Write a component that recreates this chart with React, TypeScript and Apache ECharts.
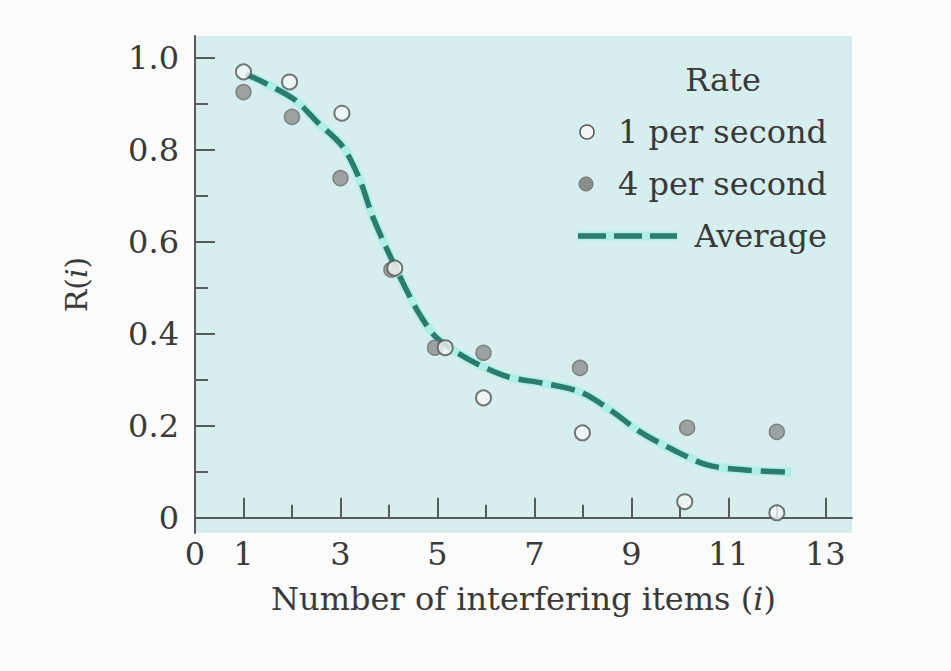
import React, { useEffect, useRef } from "react";
import * as echarts from "echarts";

const onePerSecond: [number, number][] = [
  [1, 0.97], [1.95, 0.948], [3.03, 0.88], [4.12, 0.543], [5.16, 0.37],
  [5.95, 0.261], [7.99, 0.185], [10.1, 0.035], [12, 0.011],
];
const fourPerSecond: [number, number][] = [
  [1, 0.926], [2, 0.872], [3, 0.739], [4.05, 0.54], [4.95, 0.37],
  [5.95, 0.359], [7.94, 0.326], [10.15, 0.196], [12, 0.187],
];
const average: [number, number][] = [
  [1.05, 0.965], [1.4, 0.948], [2.06, 0.909], [2.52, 0.861], [3.05, 0.807],
  [3.4, 0.735], [3.65, 0.659], [3.92, 0.593], [4.33, 0.502], [4.64, 0.441],
  [5.0, 0.39], [5.67, 0.343], [6.44, 0.307], [7.18, 0.293], [7.94, 0.274],
  [8.56, 0.235], [9.18, 0.187], [9.86, 0.148], [10.56, 0.115], [11.35, 0.104],
  [12.3, 0.099],
];
const xLabelValues = [0, 1, 3, 5, 7, 9, 11, 13];
const xMajorTicks = [1, 3, 5, 7, 9, 11, 13];
const xMinorTicks = [2, 4, 6, 8, 10, 12];
const yLabelValues = [0, 0.2, 0.4, 0.6, 0.8, 1.0];
const yMinorTicks = [0.1, 0.3, 0.5, 0.7, 0.9];
const legendTitle = "Rate";
const legendLabels = ["1 per second", "4 per second", "Average"];

const FONT = "DejaVu Serif";
const TEXT = "#3a3a3a";
const AXIS = "#5a5a5a";
const LINE = "#2b7b6e";
const GLOW = "rgba(150,240,228,0.6)";
const FS = 32;

export default function App() {
  const ref = useRef<HTMLDivElement>(null);
  useEffect(() => {
    if (!ref.current) return;
    const chart = echarts.init(ref.current, null, { renderer: "svg" });
    const xMin = 0, xMax = 13.55, yMin = -0.033, yMax = 1.048;
    const legendX = 827;
    const rows = [80, 132, 184, 236];
    const legendFont = `${FS}px "${FONT}"`;
    chart.setOption({
      animation: false,
      backgroundColor: "#fbfbfb",
      textStyle: { fontFamily: FONT },
      grid: {
        left: 195, right: 99, top: 36, bottom: 138,
        show: true, backgroundColor: "#d7eeee", borderWidth: 0,
      },
      xAxis: [
        {
          type: "value", min: xMin, max: xMax, position: "bottom",
          axisLine: { show: true, lineStyle: { color: AXIS, width: 2 } },
          axisTick: { show: true, inside: true, length: 20, customValues: xMajorTicks, lineStyle: { color: AXIS, width: 2 } },
          axisLabel: { customValues: xLabelValues, color: TEXT, fontFamily: FONT, fontSize: FS, margin: 5 },
          splitLine: { show: false },
          name: "Number of interfering items ({i|i})",
          nameLocation: "middle", nameGap: 50,
          nameTextStyle: {
            color: TEXT, fontFamily: FONT, fontSize: FS,
            rich: { i: { fontStyle: "italic", fontFamily: FONT, fontSize: FS, color: TEXT } },
          },
        },
        {
          type: "value", min: xMin, max: xMax, position: "bottom", offset: 0,
          axisLine: { show: false },
          axisTick: { show: true, inside: true, length: 13, customValues: xMinorTicks, lineStyle: { color: AXIS, width: 2 } },
          axisLabel: { show: false },
          splitLine: { show: false },
        },
      ],
      yAxis: [
        {
          type: "value", min: yMin, max: yMax, position: "left",
          axisLine: { show: true, lineStyle: { color: AXIS, width: 2 } },
          axisTick: { show: true, inside: true, length: 20, customValues: yLabelValues, lineStyle: { color: AXIS, width: 2 } },
          axisLabel: {
            customValues: yLabelValues, color: TEXT, fontFamily: FONT, fontSize: FS, margin: 16,
            formatter: (v: number) => (v === 0 ? "0" : v.toFixed(1)),
          },
          splitLine: { show: false },
          name: "R({i|i})",
          nameLocation: "middle", nameGap: 104,
          nameTextStyle: {
            color: TEXT, fontFamily: FONT, fontSize: 30,
            rich: { i: { fontStyle: "italic", fontFamily: FONT, fontSize: 30, color: TEXT } },
          },
        },
        {
          type: "value", min: yMin, max: yMax, position: "left", offset: 0,
          axisLine: { show: false },
          axisTick: { show: true, inside: true, length: 13, customValues: yMinorTicks, lineStyle: { color: AXIS, width: 2 } },
          axisLabel: { show: false },
          splitLine: { show: false },
        },
      ],
      series: [
        {
          name: "Average glow", type: "line", smooth: 0.3, showSymbol: false, silent: true,
          data: average, lineStyle: { color: GLOW, width: 9 }, z: 2,
        },
        {
          name: legendLabels[2], type: "line", smooth: 0.3, showSymbol: false,
          data: average, lineStyle: { color: LINE, width: 5.5, type: [24, 9] }, z: 3,
        },
        {
          name: legendLabels[1], type: "scatter", symbol: "circle", symbolSize: 15,
          data: fourPerSecond,
          itemStyle: { color: "#8d8d8d", borderColor: "#707070", borderWidth: 1.5 }, z: 4,
        },
        {
          name: legendLabels[0], type: "scatter", symbol: "circle", symbolSize: 15,
          data: onePerSecond,
          itemStyle: { color: "#f3f6f6", borderColor: "#555555", borderWidth: 2 }, z: 5,
        },
      ],
      graphic: [
        {
          type: "text", x: 723, y: rows[0],
          style: { text: legendTitle, fill: TEXT, font: legendFont, textAlign: "center", textVerticalAlign: "middle" },
        },
        {
          type: "text", x: legendX, y: rows[1],
          style: { text: legendLabels[0], fill: TEXT, font: legendFont, textAlign: "right", textVerticalAlign: "middle" },
        },
        {
          type: "circle", shape: { cx: 587, cy: rows[1], r: 7 },
          style: { fill: "#f3f6f6", stroke: "#555", lineWidth: 1.5 },
        },
        {
          type: "text", x: legendX, y: rows[2],
          style: { text: legendLabels[1], fill: TEXT, font: legendFont, textAlign: "right", textVerticalAlign: "middle" },
        },
        {
          type: "circle", shape: { cx: 586, cy: rows[2], r: 7 },
          style: { fill: "#8d8d8d", stroke: "#707070", lineWidth: 1 },
        },
        {
          type: "text", x: legendX, y: rows[3],
          style: { text: legendLabels[2], fill: TEXT, font: legendFont, textAlign: "right", textVerticalAlign: "middle" },
        },
        {
          type: "line", shape: { x1: 577, y1: rows[3], x2: 678, y2: rows[3] },
          style: { stroke: GLOW, lineWidth: 9 },
        },
        {
          type: "line", shape: { x1: 578, y1: rows[3], x2: 677, y2: rows[3] },
          style: { stroke: LINE, lineWidth: 5.5, lineDash: [28, 8] },
        },
      ],
    });
    return () => chart.dispose();
  }, []);
  return (
    <div
      ref={ref}
      style={{ position: "fixed", left: 0, top: 0, width: 951, height: 671 }}
    />
  );
}
